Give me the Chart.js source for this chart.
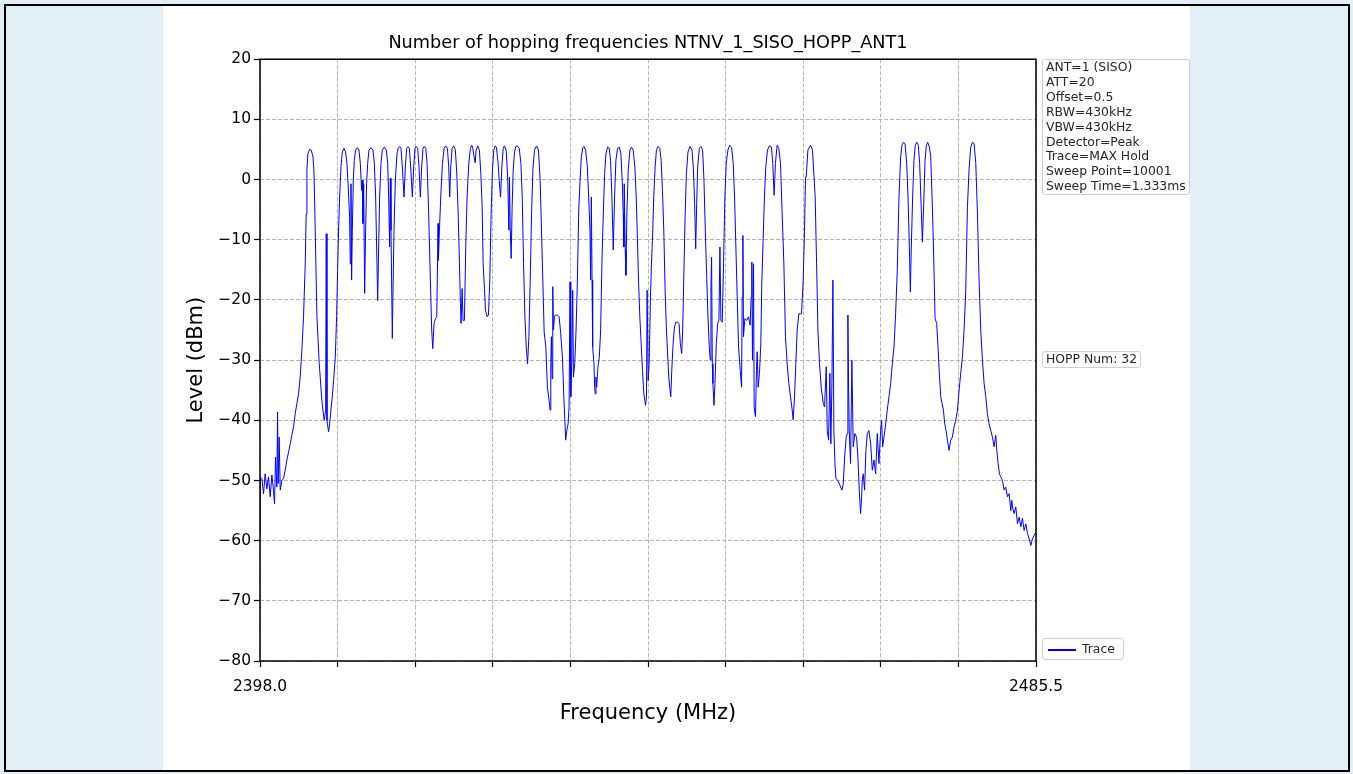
<!DOCTYPE html>
<html>
<head>
<meta charset="utf-8">
<title>Number of hopping frequencies NTNV_1_SISO_HOPP_ANT1</title>
<script src="https://cdn.jsdelivr.net/npm/chart.js@4.4.0/dist/chart.umd.min.js"></script>
<style>
  html, body { margin: 0; padding: 0; width: 1353px; height: 774px; overflow: hidden; background: #e2f0f6; }
  body { position: relative; font-family: 'DejaVu Sans', sans-serif; }
  #frame { position: absolute; left: 4px; top: 4px; width: 1342px; height: 764px; border: 2px solid #000; background: #e2f0f6; }
  #panel { position: absolute; left: 163px; top: 6px; width: 1027px; height: 764px; background: #fff; }
  #chartBox { position: absolute; left: 163px; top: 0; width: 1027px; height: 774px; }
  .note { position: absolute; background: #fff; border: 1px solid #cfcfcf; border-radius: 3px;
          font-size: 12.4px; line-height: 14.9px; color: #262626; padding: 0 3px; white-space: nowrap; }
  #info { left: 1042px; top: 59px; }
  #hopp { left: 1042px; top: 351px; }
  #legend { left: 1042px; top: 638px; width: 74px; height: 20px; line-height: 20px; }
  #legend .swatch { position: absolute; left: 5px; top: 10px; width: 28px; height: 1.5px; background: #0000ff; }
  #legend .label { position: absolute; left: 39px; top: 0; }
</style>
</head>
<body>
<div id="frame"></div>
<div id="panel"></div>
<div id="chartBox"><canvas id="hopChart" width="1027" height="774"></canvas></div>
<div class="note" id="info"></div>
<div class="note" id="hopp"></div>
<div class="note" id="legend"><span class="swatch"></span><span class="label"></span></div>

<script>
// --- data ---
const chartTitle = 'Number of hopping frequencies NTNV_1_SISO_HOPP_ANT1';
const xTitle = 'Frequency (MHz)';
const yTitle = 'Level (dBm)';
const seriesName = 'Trace';

const xTickValues = [2398.0, 2406.75, 2415.5, 2424.25, 2433.0, 2441.75, 2450.5, 2459.25, 2468.0, 2476.75, 2485.5];
const xTickLabels = ['2398.0', '', '', '', '', '', '', '', '', '', '2485.5'];
const yTickValues = [-80, -70, -60, -50, -40, -30, -20, -10, 0, 10, 20];

const infoLines = ['ANT=1 (SISO)', 'ATT=20', 'Offset=0.5', 'RBW=430kHz', 'VBW=430kHz',
  'Detector=Peak', 'Trace=MAX Hold', 'Sweep Point=10001', 'Sweep Time=1.333ms'];
const hoppText = 'HOPP Num: 32';

// trace frequency (MHz)
const traceFreq = [
  2398.00, 2398.02, 2398.21, 2398.40, 2398.58, 2398.77, 2398.96, 2399.15, 2399.34, 2399.52,
  2399.64, 2399.75, 2399.90, 2399.98, 2400.05, 2400.16, 2400.28, 2400.47, 2400.65, 2400.84,
  2401.03, 2401.22, 2401.41, 2401.59, 2401.78, 2401.97, 2402.16, 2402.35, 2402.53, 2402.72,
  2402.91, 2403.10, 2403.21, 2403.29, 2403.40, 2403.59, 2403.78, 2403.97, 2404.08, 2404.19,
  2404.30, 2404.42, 2404.53, 2404.68, 2404.79, 2404.94, 2405.09, 2405.24, 2405.40, 2405.47,
  2405.55, 2405.73, 2405.85, 2406.00, 2406.15, 2406.30, 2406.49, 2406.64, 2406.75, 2406.86,
  2406.98, 2407.13, 2407.28, 2407.47, 2407.65, 2407.80, 2407.95, 2408.10, 2408.18, 2408.26,
  2408.33, 2408.41, 2408.52, 2408.63, 2408.78, 2408.97, 2409.16, 2409.31, 2409.46, 2409.53,
  2409.61, 2409.69, 2409.80, 2409.91, 2410.02, 2410.14, 2410.29, 2410.51, 2410.74, 2410.89,
  2411.04, 2411.15, 2411.27, 2411.38, 2411.49, 2411.64, 2411.79, 2412.02, 2412.24, 2412.40,
  2412.51, 2412.62, 2412.70, 2412.77, 2412.92, 2413.00, 2413.11, 2413.26, 2413.45, 2413.60,
  2413.75, 2413.90, 2414.05, 2414.24, 2414.39, 2414.54, 2414.69, 2414.84, 2414.99, 2415.18,
  2415.33, 2415.48, 2415.63, 2415.78, 2415.93, 2416.08, 2416.23, 2416.38, 2416.53, 2416.69,
  2416.84, 2417.02, 2417.21, 2417.36, 2417.48, 2417.63, 2417.78, 2417.93, 2418.08, 2418.12,
  2418.23, 2418.38, 2418.57, 2418.76, 2418.94, 2419.13, 2419.28, 2419.39, 2419.51, 2419.66,
  2419.85, 2420.03, 2420.19, 2420.34, 2420.49, 2420.60, 2420.67, 2420.79, 2420.90, 2421.05,
  2421.20, 2421.35, 2421.54, 2421.73, 2421.88, 2421.99, 2422.14, 2422.26, 2422.37, 2422.56,
  2422.74, 2422.90, 2423.05, 2423.16, 2423.31, 2423.42, 2423.61, 2423.76, 2423.91, 2424.06,
  2424.21, 2424.36, 2424.51, 2424.66, 2424.85, 2424.97, 2425.12, 2425.27, 2425.42, 2425.57,
  2425.76, 2425.94, 2426.06, 2426.13, 2426.21, 2426.32, 2426.43, 2426.55, 2426.70, 2426.85,
  2427.00,
  2427.23, 2427.42, 2427.57, 2427.72, 2427.87, 2428.02, 2428.17, 2428.32, 2428.47, 2428.62,
  2428.77, 2428.95, 2429.18, 2429.40, 2429.59, 2429.74, 2429.89, 2430.04, 2430.23, 2430.41,
  2430.60, 2430.71, 2430.79, 2430.86, 2430.94, 2431.01, 2431.09, 2431.20, 2431.31, 2431.54,
  2431.73, 2431.91, 2432.10, 2432.29, 2432.47, 2432.59, 2432.74, 2432.85, 2432.96, 2433.04,
  2433.15, 2433.26, 2433.34, 2433.49, 2433.64, 2433.79, 2433.94, 2434.09, 2434.24, 2434.39,
  2434.54, 2434.72, 2434.91, 2435.06, 2435.21, 2435.28, 2435.36, 2435.44, 2435.51, 2435.66,
  2435.73, 2435.81, 2435.88, 2435.96, 2436.11, 2436.26, 2436.41, 2436.56, 2436.71, 2436.86,
  2437.01, 2437.20, 2437.38, 2437.53, 2437.68, 2437.83, 2437.98, 2438.13, 2438.32, 2438.51,
  2438.69, 2438.84, 2438.96, 2439.03, 2439.07, 2439.18, 2439.26, 2439.37, 2439.52, 2439.71,
  2439.89, 2440.08, 2440.27, 2440.42, 2440.53, 2440.68, 2440.83, 2440.98, 2441.13, 2441.28,
  2441.39, 2441.47, 2441.58, 2441.65, 2441.77, 2441.88, 2442.03, 2442.14, 2442.25, 2442.40,
  2442.55, 2442.70, 2442.89, 2443.08, 2443.23, 2443.38, 2443.53, 2443.68, 2443.83, 2443.98,
  2444.09, 2444.20, 2444.32, 2444.43, 2444.58, 2444.73, 2444.88, 2445.10, 2445.25, 2445.40,
  2445.55, 2445.66, 2445.78, 2445.93, 2446.08, 2446.26, 2446.49, 2446.71, 2446.86, 2447.01,
  2447.13, 2447.24, 2447.35, 2447.54, 2447.72, 2447.91, 2448.06, 2448.21, 2448.36, 2448.51,
  2448.66, 2448.77, 2448.85, 2448.92, 2449.00, 2449.07, 2449.19, 2449.30, 2449.45, 2449.60,
  2449.75, 2449.86, 2449.97, 2450.12, 2450.27, 2450.42, 2450.57, 2450.76, 2450.95, 2451.17,
  2451.36, 2451.51, 2451.66, 2451.81, 2451.96, 2452.15, 2452.30, 2452.37, 2452.45, 2452.52,
  2452.67, 2452.90, 2453.08, 2453.27, 2453.38, 2453.46, 2453.53, 2453.65, 2453.72, 2453.87,
  2453.98, 2454.06, 2454.17, 2454.32, 2454.47, 2454.58, 2454.73, 2454.88, 2455.03, 2455.22,
  2455.44, 2455.67, 2455.82, 2455.97, 2456.12,
  2456.31, 2456.50, 2456.69, 2456.88, 2457.07, 2457.25, 2457.44, 2457.63, 2457.82, 2458.01,
  2458.12, 2458.27, 2458.42, 2458.57, 2458.76, 2459.06, 2459.25, 2459.40, 2459.51, 2459.59,
  2459.78, 2460.08, 2460.30, 2460.45, 2460.60, 2460.76, 2460.91, 2461.09, 2461.28, 2461.51,
  2461.66, 2461.85, 2461.96, 2462.11, 2462.26, 2462.37, 2462.49, 2462.60, 2462.71, 2462.83,
  2462.94, 2463.16, 2463.39, 2463.62, 2463.77, 2463.92, 2464.10, 2464.22, 2464.29, 2464.37,
  2464.44, 2464.59, 2464.74, 2464.89, 2465.08, 2465.27, 2465.42, 2465.57, 2465.72, 2465.84,
  2465.91, 2466.02, 2466.17, 2466.32, 2466.48, 2466.66, 2466.86, 2467.04, 2467.23, 2467.42,
  2467.60, 2467.79, 2467.98, 2468.09, 2468.21, 2468.36, 2468.55, 2468.73, 2468.92, 2469.11,
  2469.30, 2469.49, 2469.67, 2469.86, 2470.05, 2470.24, 2470.39, 2470.54, 2470.73, 2470.92,
  2471.07, 2471.22, 2471.33, 2471.44, 2471.59, 2471.74, 2471.89, 2472.05, 2472.23, 2472.38,
  2472.54, 2472.69, 2472.84, 2472.99, 2473.14, 2473.29, 2473.48, 2473.63, 2473.78, 2473.89,
  2474.00, 2474.12, 2474.30, 2474.45, 2474.60, 2474.76, 2474.91, 2475.06, 2475.21, 2475.36,
  2475.51, 2475.70, 2475.88, 2476.07, 2476.26, 2476.45, 2476.64, 2476.83, 2477.01, 2477.20,
  2477.39, 2477.58, 2477.77, 2477.95, 2478.14, 2478.33, 2478.52, 2478.71, 2478.90, 2479.08,
  2479.27, 2479.46, 2479.65, 2479.84, 2480.02, 2480.21, 2480.40, 2480.59, 2480.78, 2480.96,
  2481.08, 2481.23, 2481.38, 2481.53, 2481.72, 2481.91, 2482.09, 2482.28, 2482.47, 2482.66,
  2482.77, 2482.85, 2483.03, 2483.22, 2483.41, 2483.60, 2483.79, 2483.97, 2484.16, 2484.35,
  2484.54, 2484.73, 2484.92, 2485.10, 2485.29, 2485.50
];

// trace level (dBm), same order as traceFreq
const traceLevel = [
  -58.8, -49.4, -49.7, -52.2, -48.9, -51.4, -49.4, -52.7, -49.1, -51.6,
  -53.9, -46.1, -51.1, -38.6, -50.5, -42.8, -51.6, -50.0, -49.7, -48.3,
  -46.6, -45.3, -43.9, -42.5, -41.1, -38.9, -37.2, -35.6, -32.8, -28.4,
  -22.8, -14.0, -5.7, 1.6, 4.3, 5.0, 4.9, 3.8, 1.6, -5.7,
  -14.0, -22.8, -26.1, -30.6, -32.8, -36.1, -38.3, -40.0, -38.3, -9.0,
  -40.0, -41.9, -40.6, -38.3, -36.1, -33.4, -29.5, -22.8, -15.1, -8.4,
  -2.9, 2.1, 4.6, 5.2, 4.6, 2.7, -1.2, -6.2, -14.0, -0.7,
  -16.7, -8.4, -0.1, 3.2, 4.9, 5.3, 4.9, 2.7, -1.8, -0.1,
  -7.3, -0.7, -18.9, -8.4, -0.7, 2.7, 4.9, 5.3, 4.9, 2.7,
  -2.9, -11.2, -20.1, -11.2, -2.9, 2.7, 4.9, 5.4, 4.9, 2.7,
  -2.9, -11.2, 0.2, -8.4, -26.4, -18.4, -8.4, -0.1, 4.3, 5.3,
  5.5, 5.2, 2.1, -2.9, 2.1, 5.2, 5.5, 5.2, 2.1, -2.9,
  2.1, 5.2, 5.5, 5.2, 2.1, -2.9, 2.1, 5.2, 5.5, 5.2,
  2.7, -5.7, -16.7, -25.0, -28.1, -23.9, -23.1, -22.8, -7.3, -13.4,
  -8.4, -2.9, 2.7, 5.2, 5.6, 5.2, 2.1, -2.9, 2.1, 5.2,
  5.6, 4.9, 1.0, -5.4, -14.0, -20.6, -23.9, -18.1, -23.4, -23.4,
  -11.2, -2.9, 2.7, 5.2, 5.7, 5.2, 3.8, 2.8, 4.9, 5.6,
  4.9, 1.0, -4.5, -14.0, -18.1, -21.7, -22.8, -22.5, -16.7, -5.7,
  1.6, 4.9, 5.6, 5.4, 2.7, -0.1, -2.9, 2.1, 5.2, 5.6,
  4.9, -0.1, -8.4, 0.4, -7.9, -13.1, -4.5, 1.6, 4.6, 5.5,
  5.6,
  5.2, 2.7, -2.9, -14.0, -22.8, -27.8, -30.6, -26.1, -16.7, -5.7,
  1.6, 4.9, 5.6, 4.9, -0.1, -8.4, -16.7, -25.3, -27.8, -34.5,
  -36.7, -38.3, -30.6, -26.1, -33.1, -17.8, -25.0, -22.8, -22.5, -22.5,
  -22.8, -25.6, -29.5, -37.2, -43.3, -41.7, -40.6, -37.8, -17.0, -36.1,
  -30.6, -18.4, -32.8, -30.6, -25.0, -16.7, -5.1, -0.1, 3.8, 5.3,
  5.5, 4.9, 2.1, -2.9, -8.4, -16.7, -2.9, -16.7, -27.8, -30.6,
  -34.5, -35.6, -32.8, -34.5, -31.1, -29.5, -25.0, -13.4, -5.7, 1.0,
  4.3, 5.4, 5.2, 3.2, -2.9, -11.7, -2.9, 3.2, 5.2, 5.4,
  4.3, -0.1, -5.7, -11.2, -0.7, -11.7, -15.9, -5.7, 1.6, 4.9,
  5.4, 4.9, 2.1, -2.9, -8.4, -16.7, -22.8, -27.3, -31.7, -35.6,
  -36.7, -37.5, -36.1, -18.4, -33.4, -30.6, -19.5, -14.0, -10.1, -2.9,
  2.1, 4.9, 5.5, 5.2, 3.2, -1.8, -8.4, -18.4, -25.0, -29.5,
  -32.8, -34.5, -36.1, -31.7, -27.3, -24.5, -23.7, -23.7, -23.9, -27.3,
  -28.9, -25.0, -16.7, -6.2, 1.0, 4.6, 5.5, 4.9, 2.1, -4.0,
  -11.5, -4.0, 2.1, 5.2, 5.5, 4.9, -0.1, -8.4, -15.6, -22.8,
  -27.8, -30.0, -17.8, -12.9, -30.6, -33.9, -37.5, -33.9, -27.3, -23.9,
  -23.4, -11.2, -23.4, -23.7, -14.0, -2.9, 2.7, 4.9, 5.7, 5.4,
  2.7, -2.9, -11.2, -19.5, -27.8, -31.7, -34.5, -19.5, -9.3, -26.1,
  -23.1, -23.4, -22.8, -24.2, -19.5, -13.7, -30.0, -14.0, -37.8, -39.4,
  -31.7, -28.6, -34.5, -32.2, -27.3, -17.3, -10.1, -2.9, 2.1, 4.9,
  5.6, 5.4, 2.7, -2.6, 2.7,
  5.7, 5.2, 2.7, -5.7, -14.0, -26.1, -30.6, -33.9, -36.1, -38.3,
  -39.9, -36.1, -30.6, -25.0, -22.3, -22.3, -16.7, -8.4, 0.4, 0.4,
  4.9, 5.7, 4.9, 1.0, -2.9, -14.0, -25.0, -30.6, -34.5, -37.2,
  -37.8, -31.1, -41.7, -43.3, -32.2, -43.9, -33.9, -16.7, -41.7, -47.2,
  -49.7, -50.0, -50.8, -51.6, -50.5, -46.1, -42.8, -42.2, -22.5, -35.0,
  -41.7, -47.2, -30.0, -44.4, -42.2, -42.8, -46.1, -51.6, -55.5, -52.7,
  -50.0, -48.9, -51.6, -45.0, -42.2, -41.7, -43.9, -48.3, -46.6, -48.9,
  -42.2, -47.2, -41.7, -40.0, -44.4, -42.8, -40.6, -38.3, -36.1, -33.9,
  -30.6, -27.8, -22.3, -15.1, -2.9, 3.8, 5.7, 6.2, 6.0, 2.7,
  -2.9, -11.2, -18.7, -11.2, -2.9, 3.2, 5.7, 6.2, 5.7, 2.7,
  -4.0, -10.4, -4.0, 3.2, 5.7, 6.2, 5.4, 3.8, -2.9, -8.4,
  -15.1, -23.1, -23.9, -27.8, -32.2, -36.1, -37.2, -38.3, -40.6, -41.7,
  -43.3, -45.0, -43.3, -42.8, -41.1, -40.0, -38.3, -35.0, -32.2, -29.5,
  -25.0, -18.4, -4.5, 1.6, 5.4, 6.2, 6.0, 2.7, -5.7, -16.7,
  -25.0, -30.0, -33.9, -36.1, -38.9, -40.6, -41.7, -42.8, -44.4, -42.5,
  -45.0, -47.2, -48.9, -49.4, -50.0, -51.6, -51.1, -52.7, -52.2, -55.0,
  -53.3, -54.4, -55.5, -54.4, -57.2, -56.1, -57.7, -56.3, -58.3, -57.2,
  -58.8, -59.7, -60.8, -59.7, -59.1, -58.6
];

// --- side notes (real text) ---
document.getElementById('info').innerHTML = infoLines.map(t => `<div>${t}</div>`).join('');
document.getElementById('hopp').textContent = hoppText;
document.querySelector('#legend .label').textContent = seriesName;

// closed box round the plot area, like matplotlib spines
const plotFrame = {
  id: 'plotFrame',
  afterDraw(chart) {
    const { ctx, chartArea: a } = chart;
    ctx.save();
    ctx.strokeStyle = '#000';
    ctx.lineWidth = 1.5;
    ctx.strokeRect(a.left, a.top, a.right - a.left, a.bottom - a.top);
    ctx.restore();
  }
};

Chart.defaults.font.family = "'DejaVu Sans', sans-serif";
Chart.defaults.color = '#000';

const gridStyle = {
  color: '#b3b3b3',
  lineWidth: 1,
  drawTicks: true,
  tickLength: 6,
  tickColor: '#000',
  tickWidth: 1.2,
  tickBorderDash: []
};

const ctx = document.getElementById('hopChart').getContext('2d');
new Chart(ctx, {
  type: 'line',
  data: {
    datasets: [{
      label: seriesName,
      data: traceFreq.map((f, i) => ({ x: f, y: traceLevel[i] })),
      borderColor: '#0000ff',
      borderWidth: 1,
      pointRadius: 0,
      tension: 0,
      fill: false
    }]
  },
  options: {
    responsive: false,
    animation: false,
    devicePixelRatio: 1,
    layout: { padding: { left: 0, right: 154, top: 0, bottom: 0 } },
    plugins: {
      legend: { display: false },
      tooltip: { enabled: false },
      title: {
        display: true,
        text: chartTitle,
        fullSize: false,
        font: { size: 17.7, weight: 'normal' },
        color: '#000',
        padding: { top: 33, bottom: 5 }
      }
    },
    scales: {
      x: {
        type: 'linear',
        min: xTickValues[0],
        max: xTickValues[xTickValues.length - 1],
        afterBuildTicks: (scale) => { scale.ticks = xTickValues.map(v => ({ value: v })); },
        afterFit: (scale) => { scale.height = 113; },
        ticks: {
          autoSkip: false,
          maxRotation: 0,
          padding: 11,
          font: { size: 15.5 },
          color: '#000',
          callback: (v, i) => xTickLabels[i]
        },
        grid: gridStyle,
        border: { display: false, dash: [4, 2] },
        title: { display: true, text: xTitle, font: { size: 21 }, color: '#000', padding: { top: 0, bottom: 48 } }
      },
      y: {
        min: yTickValues[0],
        max: yTickValues[yTickValues.length - 1],
        afterBuildTicks: (scale) => { scale.ticks = yTickValues.map(v => ({ value: v })); },
        afterFit: (scale) => { scale.width = 97; },
        ticks: {
          padding: 3,
          font: { size: 15.5 },
          color: '#000',
          callback: (v) => String(v).replace('-', '\u2212')
        },
        grid: gridStyle,
        border: { display: false, dash: [4, 2] },
        title: { display: true, text: yTitle, font: { size: 21 }, color: '#000', padding: { top: 21, bottom: 0 } }
      }
    }
  },
  plugins: [plotFrame]
});
</script>
</body>
</html>
